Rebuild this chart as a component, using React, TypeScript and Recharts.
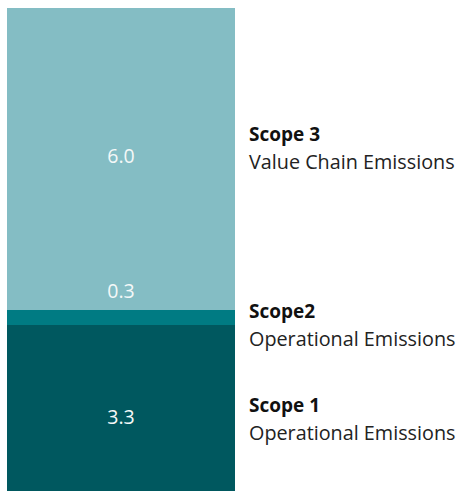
import { BarChart, Bar, XAxis, YAxis } from 'recharts';

const categories = ['Total'];
const scope1 = [3.3];
const scope2 = [0.3];
const scope3 = [6.0];

const titles = ['Scope 1', 'Scope2', 'Scope 3'];
const subtitles = ['Operational Emissions', 'Operational Emissions', 'Value Chain Emissions'];

const data = categories.map((name, i) => ({
  name,
  scope1: scope1[i],
  scope2: scope2[i],
  scope3: scope3[i],
}));

const FONT = '"Open Sans", "Noto Sans", sans-serif';

const makeLabel =
  (values: number[], title: string, subtitle: string, valueDy: number, titleDy: number) =>
  (props: any) => {
    const { x, y, width, height, index } = props;
    const cy = y + height / 2;
    const v = values[index ?? 0];
    return (
      <g>
        <text
          x={x + width / 2}
          y={cy + valueDy}
          textAnchor="middle"
          dominantBaseline="central"
          fill="#f4f8f8"
          fontSize={19.5}
          fontFamily={FONT}
        >
          {Number(v).toFixed(1)}
        </text>
        <text x={x + width + 14} y={cy + titleDy} fill="#111" fontSize={19} fontWeight="bold" fontFamily={FONT}>
          {title}
        </text>
        <text x={x + width + 14} y={cy + titleDy + 28} fill="#222" fontSize={19.8} fontFamily={FONT}>
          {subtitle}
        </text>
      </g>
    );
  };

export default function App() {
  return (
    <div style={{ position: 'absolute', left: 0, top: 0, width: 458, height: 491, background: '#fff' }}>
      <BarChart
        width={458}
        height={491}
        data={data}
        margin={{ top: 8, right: 223, left: 7, bottom: 0 }}
        barCategoryGap={0}
      >
        <XAxis dataKey="name" hide />
        <YAxis hide domain={[0, 9.6]} />
        <Bar dataKey="scope1" stackId="a" fill="#00585f" isAnimationActive={false}
          label={makeLabel(scope1, titles[0], subtitles[0], 9, 4)} />
        <Bar dataKey="scope2" stackId="a" fill="#007b83" isAnimationActive={false}
          label={makeLabel(scope2, titles[1], subtitles[1], -27, 1)} />
        <Bar dataKey="scope3" stackId="a" fill="#84bdc4" isAnimationActive={false}
          label={makeLabel(scope3, titles[2], subtitles[2], -3, -18)} />
      </BarChart>
    </div>
  );
}
